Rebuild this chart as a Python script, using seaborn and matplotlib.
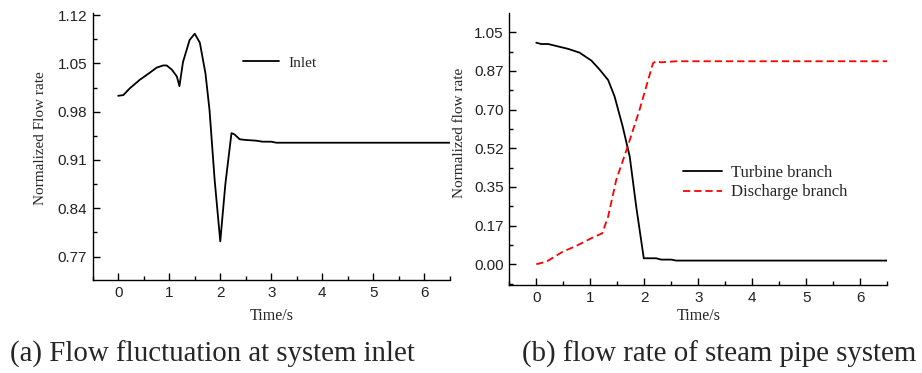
import numpy as np
import pandas as pd
import matplotlib
matplotlib.use("Agg")
import matplotlib.pyplot as plt
from matplotlib.ticker import MultipleLocator, FixedLocator
import seaborn as sns

# ---- data ----
inlet_t = [0, 0.1, 0.23, 0.42, 0.62, 0.75, 0.88, 0.95, 1.05, 1.15, 1.2, 1.27, 1.4, 1.5,
           1.6, 1.71, 1.79, 1.89, 2.0, 2.1, 2.22, 2.28, 2.38, 2.5, 2.7, 2.83, 3.0, 3.1, 6.5]
inlet_q = [1.003, 1.004, 1.014, 1.026, 1.0365, 1.0437, 1.047, 1.047, 1.041, 1.031, 1.017,
           1.052, 1.084, 1.093, 1.080, 1.0355, 0.982, 0.881, 0.792, 0.875, 0.949, 0.947,
           0.940, 0.939, 0.938, 0.9365, 0.9365, 0.935, 0.935]

turb_t = [0, 0.09, 0.22, 0.37, 0.59, 0.8, 1.02, 1.17, 1.33, 1.45, 1.6, 1.73, 1.85, 1.99,
          2.22, 2.31, 2.5, 2.59, 6.5]
turb_q = [1.003, 0.997, 0.997, 0.988, 0.975, 0.958, 0.922, 0.882, 0.834, 0.759, 0.623,
          0.487, 0.261, 0.027, 0.027, 0.021, 0.021, 0.0166, 0.0166]

dis_t = [0, 0.19, 0.49, 0.74, 1.02, 1.22, 1.33, 1.48, 1.67, 1.91, 2.16, 2.22, 2.31, 2.59, 6.5]
dis_q = [0, 0.012, 0.057, 0.083, 0.118, 0.14, 0.216, 0.382, 0.517, 0.698, 0.91, 0.92,
         0.914, 0.919, 0.919]

left_yticks = [0.77, 0.84, 0.91, 0.98, 1.05, 1.12]
left_yticklabels = ["0.77", "0.84", "0.91", "0.98", "1.05", "1.12"]
right_yticks = [0.0, 0.175, 0.35, 0.525, 0.70, 0.875, 1.05]
right_yticklabels = ["0.00", "0.17", "0.35", "0.52", "0.70", "0.87", "1.05"]
xticks = [0, 1, 2, 3, 4, 5, 6]

caption_a = "(a) Flow fluctuation at system inlet"
caption_b = "(b) flow rate of steam pipe system"

# ---- style ----
sns.set_style("ticks")
plt.rcParams["font.family"] = ["Liberation Serif", "DejaVu Serif"]
plt.rcParams["axes.linewidth"] = 1.0

SERIF = ["Liberation Serif", "DejaVu Serif"]
SANS = ["Liberation Sans", "DejaVu Sans"]

fig = plt.figure(figsize=(9.22, 3.73), dpi=100)
axL = fig.add_axes([0.1005, 0.2493, 0.3875, 0.7158])
axR = fig.add_axes([0.5524, 0.2359, 0.41, 0.7284])

df_in = pd.DataFrame({"t": inlet_t, "q": inlet_q})
df_tb = pd.DataFrame({"t": turb_t, "q": turb_q})
df_ds = pd.DataFrame({"t": dis_t, "q": dis_q})

sns.lineplot(data=df_in, x="t", y="q", ax=axL, color="black", lw=1.3,
             estimator=None, sort=False, label="Inlet")
sns.lineplot(data=df_tb, x="t", y="q", ax=axR, color="black", lw=1.3,
             estimator=None, sort=False, label="Turbine branch")
sns.lineplot(data=df_ds, x="t", y="q", ax=axR, color="red", lw=1.3,
             linestyle=(0, (4, 2.2)), estimator=None, sort=False,
             label="Discharge branch")


def style_axis(ax, yticks, yticklabels, ylim, yminor):
    ax.set_xlim(-0.5, 6.5)
    ax.set_ylim(*ylim)
    sns.despine(ax=ax)
    ax.xaxis.set_major_locator(FixedLocator(xticks))
    ax.xaxis.set_minor_locator(MultipleLocator(0.5))
    ax.yaxis.set_major_locator(FixedLocator(yticks))
    ax.set_yticklabels(yticklabels)
    ax.yaxis.set_minor_locator(FixedLocator(yminor))
    ax.tick_params(which="both", direction="in", width=1.0, colors="black")
    ax.tick_params(which="major", length=5, pad=4, labelsize=11)
    ax.tick_params(which="minor", length=3)
    for lab in ax.get_xticklabels() + ax.get_yticklabels():
        lab.set_family(SANS)
        lab.set_color("#222222")
    for sp in ax.spines.values():
        sp.set_color("black")


style_axis(axL, left_yticks, left_yticklabels, (0.736, 1.123),
           [0.735 + 0.07 * i for i in range(6)])
style_axis(axR, right_yticks, right_yticklabels, (-0.094, 1.136),
           [-0.0875 + 0.175 * i for i in range(7)])

axL.set_xlabel("Time/s", fontsize=11.5, family=SERIF)
axL.set_ylabel("Normalized Flow rate", fontsize=11, family=SERIF)
axL.xaxis.set_label_coords(0.5, -0.105)
axL.yaxis.set_label_coords(-0.127, 0.53)

axR.set_xlabel("Time/s", fontsize=11.5, family=SERIF)
axR.set_ylabel("Normalized flow rate", fontsize=11, family=SERIF)
axR.xaxis.set_label_coords(0.5, -0.085)
axR.yaxis.set_label_coords(-0.115, 0.56)

axL.legend(loc="center left", bbox_to_anchor=(0.42, 0.813), frameon=False,
           prop={"family": SERIF, "size": 11}, handlelength=2.4,
           handletextpad=0.6, borderpad=0, borderaxespad=0)
axR.legend(loc="center left", bbox_to_anchor=(0.4587, 0.3765), frameon=False,
           prop={"family": SERIF, "size": 12}, handlelength=2.34,
           handletextpad=0.54, labelspacing=0.2, borderpad=0, borderaxespad=0)

fig.text(0.0108, 0.0303, caption_a, fontsize=20.8, family=SERIF, va="baseline", ha="left")
fig.text(0.566, 0.0303, caption_b, fontsize=20.8, family=SERIF, va="baseline", ha="left")

fig.savefig("out.png", dpi=100, facecolor="white")
